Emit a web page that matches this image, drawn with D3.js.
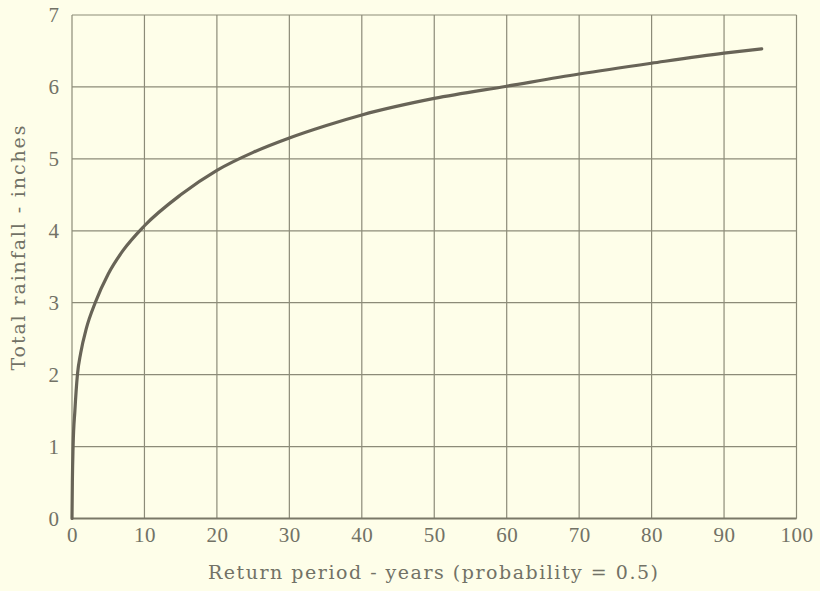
<!DOCTYPE html>
<html><head><meta charset="utf-8">
<script src="https://cdn.jsdelivr.net/npm/d3@7"></script>
<style>
html,body{margin:0;padding:0;background:#fefee9;}
svg{display:block;}
</style></head>
<body>
<svg id="chart" width="820" height="591"></svg>
<script>
const years = [0, 0.05, 0.15, 0.4, 0.75, 1.2, 2, 3.2, 5, 7, 10, 15, 20, 25, 30, 35, 40, 50, 60, 70, 80, 90, 95.2];
const rainfall = [0, 0.5, 1.0, 1.5, 2.0, 2.3, 2.65, 3.0, 3.4, 3.72, 4.07, 4.5, 4.84, 5.09, 5.29, 5.46, 5.61, 5.84, 6.01, 6.18, 6.33, 6.47, 6.53];
const xTicks = [0,10,20,30,40,50,60,70,80,90,100];
const yTicks = [0,1,2,3,4,5,6,7];
const xLabel = "Return period - years (probability = 0.5)";
const yLabel = "Total rainfall - inches";

const svg = d3.select("#chart");
const x = d3.scaleLinear().domain([0,100]).range([72,796.5]);
const y = d3.scaleLinear().domain([0,7]).range([518.5,15]);
const grid = "#8c8b78";
const font = "'Liberation Serif', 'DejaVu Serif', serif";
const titleFont = "'DejaVu Serif', 'Liberation Serif', serif";
const tc = "#727266";

const g = svg.append("g");
g.selectAll("line.v").data(xTicks).join("line")
  .attr("x1",d=>x(d)).attr("x2",d=>x(d)).attr("y1",y(0)).attr("y2",y(7))
  .attr("stroke",grid).attr("stroke-width",1.2);
g.selectAll("line.h").data(yTicks).join("line")
  .attr("y1",d=>y(d)).attr("y2",d=>y(d)).attr("x1",x(0)).attr("x2",x(100))
  .attr("stroke",grid).attr("stroke-width",1.2);
g.append("line").attr("x1",x(0)).attr("x2",x(100)).attr("y1",y(0)).attr("y2",y(0))
  .attr("stroke","#7a7868").attr("stroke-width",1.8);

const xAxis = d3.axisBottom(x).tickValues(xTicks).tickFormat(d3.format("d")).tickSize(0).tickPadding(9);
const xa = svg.append("g").attr("transform",`translate(0,${y(0)})`).call(xAxis);
xa.select(".domain").remove();
xa.selectAll("text").style("font-size","21px").style("fill",tc)
  .style("font-family",font).style("letter-spacing","0.5px").attr("dy","0.71em");

const yAxis = d3.axisLeft(y).tickValues(yTicks).tickFormat(d3.format("d")).tickSize(0).tickPadding(13);
const ya = svg.append("g").attr("transform",`translate(${x(0)},0)`).call(yAxis);
ya.select(".domain").remove();
ya.selectAll("text").style("font-size","21px").style("fill",tc).style("font-family",font);

const line = d3.line().x((d,i)=>x(years[i])).y(d=>y(d)).curve(d3.curveMonotoneX);
svg.append("path").datum(rainfall).attr("d",line)
  .attr("fill","none").attr("stroke","#686457").attr("stroke-width",3.2)
  .attr("stroke-linecap","round");

svg.append("text").attr("x",433).attr("y",579).attr("text-anchor","middle")
  .style("font-family",titleFont).style("font-size","19px").style("fill",tc)
  .attr("textLength",450).attr("lengthAdjust","spacing").text(xLabel);
svg.append("text").attr("transform",`translate(25,248) rotate(-90)`)
  .attr("text-anchor","middle").style("font-family",titleFont).style("font-size","19px").style("fill",tc)
  .attr("textLength",245).attr("lengthAdjust","spacing").text(yLabel);
</script>
</body></html>
